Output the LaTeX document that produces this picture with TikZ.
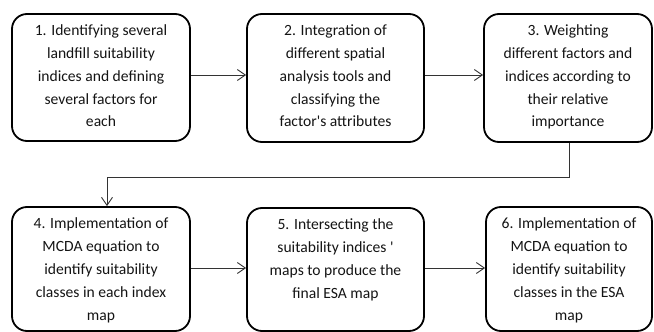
\documentclass[tikz,border=0pt]{standalone}
\usepackage{fontspec}
\setmainfont{Carlito}[Ligatures=TeXOff]
\usetikzlibrary{arrows.meta}

% Step text: centred lines, hung from the top of a box of given width and height
\newcommand{\steptext}[3]{\parbox[c][#2][t]{#1}{\centering\fontsize{15.6pt}{23pt}\selectfont\rule{0pt}{21pt}#3}}

\tikzset{
  stepbox/.style={draw=black, line width=1.8pt, rounded corners=15pt,
    inner sep=0pt, text=black!92},
  flow/.style={draw=black!80, line width=0.9pt,
    -{Straight Barb[length=8pt,width=11pt,line width=0.9pt]}},
}

\begin{document}
\begin{tikzpicture}[x=1pt,y=-1pt]
  \useasboundingbox (0,0) rectangle (654,332);

  % top row
  \node[stepbox, minimum width=178pt, minimum height=127pt] (s1) at (101,77.5)
    {\steptext{178pt}{127pt}{1. Identifying several\\ landfill suitability\\ indices and defining\\ several factors for\\ each}};
  \node[stepbox, minimum width=177pt, minimum height=128pt] (s2) at (335.5,78)
    {\steptext{177pt}{128pt}{2. Integration of\\ different spatial\\ analysis tools and\\ classifying the\\ factor's attributes}};
  \node[stepbox, minimum width=168pt, minimum height=128pt] (s3) at (568,78)
    {\steptext{168pt}{128pt}{3. Weighting\\ different factors and\\ indices according to\\ their relative\\ importance}};

  % bottom row
  \node[stepbox, minimum width=178pt, minimum height=124pt] (s4) at (101,269)
    {\steptext{178pt}{124pt}{4. Implementation of\\ MCDA equation to\\ identify suitability\\ classes in each index\\ map}};
  \node[stepbox, minimum width=177pt, minimum height=123pt] (s5) at (335.5,269.5)
    {\steptext{177pt}{123pt}{5. Intersecting the\\ suitability indices '\\ maps to produce the\\ final ESA map}};
  \node[stepbox, minimum width=166pt, minimum height=124pt] (s6) at (569,269)
    {\steptext{166pt}{124pt}{6. Implementation of\\ MCDA equation to\\ identify suitability\\ classes in the ESA\\ map}};

  % connectors
  \draw[flow] (s1.east |- 0,75) -- (s2.west |- 0,75);
  \draw[flow] (s2.east |- 0,75) -- (s3.west |- 0,75);
  \coordinate (turnA) at (569,177);
  \coordinate (turnB) at (107,177);
  \draw[flow] (s3.south -| turnA) -- (turnA) -- (turnB) -- (turnB |- s4.north);
  \draw[flow] (s4.east |- 0,268) -- (s5.west |- 0,268);
  \draw[flow] (s5.east |- 0,268) -- (s6.west |- 0,268);
\end{tikzpicture}
\end{document}
